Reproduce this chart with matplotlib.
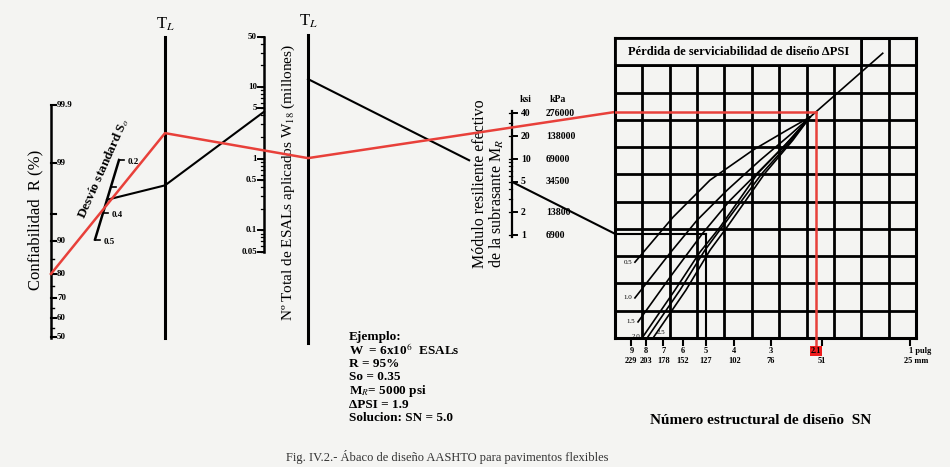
import numpy as np
import matplotlib.pyplot as plt
from matplotlib.patches import Rectangle
from statistics import NormalDist

plt.rcParams['font.family'] = ['Liberation Serif', 'DejaVu Serif']
plt.rcParams['mathtext.fontset'] = 'stix'

BG = '#f4f4f2'
RED = '#e8403a'

# ================= scale values =================
r_ticks = [50, 60, 70, 80, 90, 95, 99, 99.9]
r_labels = ['50', '60', '70', '80', '90', '', '99', '99.9']
r_minor = [55, 65, 75, 85]
so_ticks = [0.2, 0.3, 0.4, 0.5]
so_labels = ['0.2', '', '0.4', '0.5']
w_ticks = [0.05, 0.1, 0.5, 1, 5, 10, 50]
w_labels = ['0.05', '0.1', '0.5', '1', '5', '10', '50']
mr_ksi = [1, 2, 5, 10, 20, 40]
mr_kpa = ['6900', '13800', '34500', '69000', '138000', '276000']
sn_ticks = [9, 8, 7, 6, 5, 4, 3, 2, 1]
sn_inch = ['9', '8', '7', '6', '5', '4', '3', '', '1 pulg']
sn_mm = ['229', '203', '178', '152', '127', '102', '76', '51', '25 mm']

# ================= design curves (Delta PSI) =================
# SN read along each curve, and height in grid rows (0 = bottom, 11 = top)
dpsi_labels = ['0.5', '1.0', '1.5', '2.0', '', '2.5']
dpsi_sn = [
    [8.75, 6.48, 4.84, 3.45, 2.64, 2.20],
    [8.75, 6.64, 5.36, 4.23, 3.26, 2.58, 2.20],
    [8.54, 6.48, 5.12, 4.13, 3.26, 2.58, 2.20],
    [8.21, 6.38, 5.24, 4.47, 3.32, 2.68, 2.20],
    [7.89, 6.13, 5.04, 4.40, 3.21, 2.58, 2.20],
    [7.53, 5.85, 4.84, 4.23, 3.14, 2.52, 2.20],
]
dpsi_row = [
    [2.78, 4.43, 5.79, 6.89, 7.62, 8.10],
    [1.47, 3.11, 4.32, 5.42, 6.52, 7.44, 8.10],
    [0.59, 2.38, 3.85, 5.05, 6.15, 7.25, 8.10],
    [0.05, 1.76, 3.15, 4.07, 6.04, 7.07, 8.10],
    [0.05, 1.76, 3.22, 4.07, 6.04, 7.18, 8.10],
    [0.05, 1.76, 3.22, 4.07, 6.04, 7.25, 8.10],
]
upper_sn = [2.20, 1.24]
upper_row = [8.10, 10.44]

# ================= worked examples =================
ex_black = dict(R=95, So=0.35, W=4.5, Mr=5, SN=5.0)
ex_red = dict(R=80, So=0.38, W=1.3, Mr=26, SN=2.1)

example_lines = ["Ejemplo:", r"W  = 6x10$^6$  ESALs", "R = 95%", "So = 0.35",
                 r"M$_R$= 5000 psi", "ΔPSI = 1.9", "Solucion: SN = 5.0"]


# ================= nomograph geometry (pixels) =================
R_X, TL1_X, W_X, TL2_X, MR_X = 51, 165, 264, 308, 512
G_L, G_R, G_T, G_B = 615, 916, 38, 338
ROW_H = (G_B - G_T) / 11


def y_r(r):
    return 337 - 75 * NormalDist().inv_cdf(r / 100)


def p_so(s):
    return 119 - 80 * (s - 0.2), 160 + 265 * (s - 0.2)


def y_w(w):
    return 158.6 - 71.7 * np.log10(w)


def y_mr(m):
    return 235 - 76 * np.log10(m)


def extend(p0, p1, x):
    return p0[1] + (p1[1] - p0[1]) * (x - p0[0]) / (p1[0] - p0[0])


def path(ex):
    pr = (R_X, y_r(ex['R']))
    ps = p_so(ex['So'])
    p1 = (TL1_X, extend(pr, ps, TL1_X))
    pw = (W_X, y_w(ex['W']))
    p2 = (TL2_X, extend(p1, pw, TL2_X))
    pm = (MR_X, y_mr(ex['Mr']))
    pg = (G_L, extend(p2, pm, G_L))
    return pr, ps, p1, pw, p2, pm, pg


fig = plt.figure(figsize=(9.5, 4.67), dpi=100, facecolor=BG)
ax = fig.add_axes([0, 0, 1, 1])
ax.set_xlim(0, 950)
ax.set_ylim(467, 0)
ax.axis('off')
ax.set_facecolor(BG)

# ---------- Confiabilidad R ----------
ax.plot([R_X, R_X], [y_r(99.9), y_r(50) + 1], color='k', lw=1.8)
for v, lab in zip(r_ticks, r_labels):
    ax.plot([R_X, R_X + 5], [y_r(v)] * 2, color='k', lw=1.5)
    ax.text(R_X + 6, y_r(v), lab, fontsize=6.5, fontweight='bold', va='center')
for v in r_minor:
    ax.plot([R_X, R_X + 3], [y_r(v)] * 2, color='k', lw=1)
ax.text(35, 220, "Confiabilidad  R (%)", rotation=90, fontsize=12, ha='center', va='center')

# ---------- Desvio standard So ----------
xs0, ys0 = p_so(0.2)
xs1, ys1 = p_so(0.5)
ax.plot([xs0, xs1], [ys0, ys1], color='k', lw=1.8)
for v, lab in zip(so_ticks, so_labels):
    x, y = p_so(v)
    ax.plot([x, x + 5], [y, y], color='k', lw=1.2)
    ax.text(x + 9, y + 2, lab, fontsize=6.5, fontweight='bold', va='center')
ax.text(103, 168, r"Desvío standard S$_o$", rotation=66, fontsize=9.5, fontweight='bold',
        ha='center', va='center')

# ---------- turning lines ----------
ax.plot([TL1_X, TL1_X], [37, 338], color='k', lw=2.2)
ax.plot([TL2_X, TL2_X], [35, 343], color='k', lw=2.2)
ax.text(TL1_X, 24, r"T$_L$", fontsize=12, ha='center', va='center')
ax.text(TL2_X, 21, r"T$_L$", fontsize=12, ha='center', va='center')

# ---------- ESALs W18 ----------
ax.plot([W_X, W_X], [y_w(50), y_w(0.05)], color='k', lw=1.8)
for dec in [0.01, 0.1, 1, 10]:
    for k in range(1, 10):
        v = k * dec
        if 0.05 <= v <= 50:
            ax.plot([W_X - 3, W_X], [y_w(v)] * 2, color='k', lw=0.9)
for v, lab in zip(w_ticks, w_labels):
    ax.plot([W_X - 6, W_X], [y_w(v)] * 2, color='k', lw=1.4)
    ax.text(W_X - 7, y_w(v), lab, fontsize=6.5, fontweight='bold', ha='right', va='center')
ax.text(288, 183, r"Nº Total de ESALs aplicados W$_{18}$ (millones)", rotation=90,
        fontsize=11, ha='center', va='center')

# ---------- Modulo resiliente Mr ----------
ax.plot([MR_X, MR_X], [y_mr(40) - 2, y_mr(1) + 2], color='k', lw=1.6)
for dec in [1, 10]:
    for k in range(1, 10):
        v = k * dec
        if v <= 40:
            ax.plot([MR_X - 3, MR_X], [y_mr(v)] * 2, color='k', lw=0.9)
for v, kp in zip(mr_ksi, mr_kpa):
    ax.plot([MR_X, MR_X + 5], [y_mr(v)] * 2, color='k', lw=1.4)
    ax.text(MR_X + 9, y_mr(v), str(v), fontsize=7, fontweight='bold', va='center')
    ax.text(MR_X + 34, y_mr(v), kp, fontsize=7, fontweight='bold', va='center')
ax.text(MR_X + 14, 100, "ksi", fontsize=7, fontweight='bold', ha='center', va='center')
ax.text(MR_X + 46, 100, "kPa", fontsize=7, fontweight='bold', ha='center', va='center')
ax.text(489, 183.5, "Módulo resiliente efectivo\nde la subrasante M$_R$", rotation=90,
        fontsize=11.5, ha='center', va='center', multialignment='left', linespacing=0.95)

# ---------- example paths on the scales ----------
pr, ps, p1, pw, p2, pm, pg = path(ex_red)
ax.plot([pr[0], p1[0], p2[0], pg[0]], [pr[1], p1[1], p2[1], pg[1]], color=RED, lw=1.8, zorder=4)
red_row = (G_B - pg[1]) / ROW_H

pr, ps, p1, pw, p2, pm, pg = path(ex_black)
ax.plot([ps[0], p1[0], pw[0]], [ps[1], p1[1], pw[1]], color='k', lw=1.5, zorder=3)
gap = 0.79
ax.plot([p2[0], p2[0] + gap * (pm[0] - p2[0])], [p2[1], p2[1] + gap * (pm[1] - p2[1])],
        color='k', lw=1.5, zorder=3)
ax.plot([pm[0], pg[0]], [pm[1], pg[1]], color='k', lw=1.5, zorder=3)
black_row = (G_B - pg[1]) / ROW_H

# ---------- example text ----------
for i, line in enumerate(example_lines):
    ax.text(349, 337 + 13.5 * i, line, fontsize=9.5, fontweight='bold', va='center')
ax.text(761, 421, "Número estructural de diseño  SN", fontsize=11, fontweight='bold',
        ha='center', va='center')
ax.text(447, 457, "Fig. IV.2.- Ábaco de diseño AASHTO para pavimentos flexibles",
        fontsize=9, ha='center', va='center', color='#333333')

# ================= design grid =================
sn_left = 10 ** ((910 - G_L) / 292)
sn_right = 10 ** ((910 - G_R) / 292)
axg = fig.add_axes([G_L / 950, 1 - G_B / 467, (G_R - G_L) / 950, (G_B - G_T) / 467])
axg.set_xscale('log')
axg.set_xlim(sn_left, sn_right)
axg.set_ylim(0, 11)
axg.patch.set_alpha(0)
for s in axg.spines.values():
    s.set_linewidth(2.2)
for c in np.geomspace(sn_left, sn_right, 12)[1:-1]:
    axg.axvline(c, color='k', lw=2)
for r in range(1, 11):
    axg.axhline(r, color='k', lw=2)
axg.add_patch(Rectangle((0, 10 / 11), 9 / 11, 1 / 11, transform=axg.transAxes,
                        facecolor=BG, edgecolor='k', lw=2, zorder=3))
axg.text(4.5 / 11, 10.5 / 11, "Pérdida de serviciabilidad de diseño ΔPSI", transform=axg.transAxes,
         fontsize=9, fontweight='bold', ha='center', va='center', zorder=4)

for sn, rw in zip(dpsi_sn, dpsi_row):
    axg.plot(sn, rw, color='k', lw=1.2, zorder=3)
for i in [0, 1, 2, 3]:
    axg.annotate(dpsi_labels[i], (dpsi_sn[i][0], dpsi_row[i][0]), xytext=(-2, 0),
                 textcoords='offset points', fontsize=5, ha='right', va='center', zorder=4)
axg.annotate(dpsi_labels[5], (dpsi_sn[5][0], dpsi_row[5][0]), xytext=(2, 3),
             textcoords='offset points', fontsize=5, ha='left', va='center', zorder=4)
axg.plot(upper_sn, upper_row, color='k', lw=1.2, zorder=3)

# example paths inside the grid
axg.plot([sn_left, ex_black['SN']], [black_row, black_row], color='k', lw=1.5, zorder=3)
axg.plot([ex_black['SN'], ex_black['SN']], [black_row, 0], color='k', lw=1.5, zorder=3)
axg.plot([sn_left, ex_red['SN']], [red_row, red_row], color=RED, lw=1.8, zorder=5)
axg.plot([ex_red['SN'], ex_red['SN']], [red_row, -0.3], color=RED, lw=1.8, zorder=5, clip_on=False)

# SN axis: ticks below the grid, inch and mm rows as separate labels
axg.xaxis.set_minor_locator(plt.NullLocator())
axg.set_xticks(sn_ticks)
axg.set_xticklabels([])
axg.tick_params(axis='x', direction='out', length=6, width=1.5)
axg.set_yticks([])
tr = axg.get_xaxis_transform()
for s, inch, mm in zip(sn_ticks, sn_inch, sn_mm):
    last = s == 1
    ha = 'left' if last else 'center'
    axg.text(s * (1.01 if last else 1.0), -0.043, inch, transform=tr, fontsize=6,
             fontweight='bold', ha=ha, va='center')
    axg.text(s * (1.045 if last else 1.0), -0.078, mm, transform=tr, fontsize=6,
             fontweight='bold', ha=ha, va='center')
axg.text(ex_red['SN'], -0.043, "2.1", transform=tr, fontsize=6, fontweight='bold', ha='center',
         va='center', bbox=dict(boxstyle='square,pad=0.12', facecolor='#ee1c1c', edgecolor='none'),
         zorder=6)

fig.savefig('out.png', dpi=100, facecolor=BG)
